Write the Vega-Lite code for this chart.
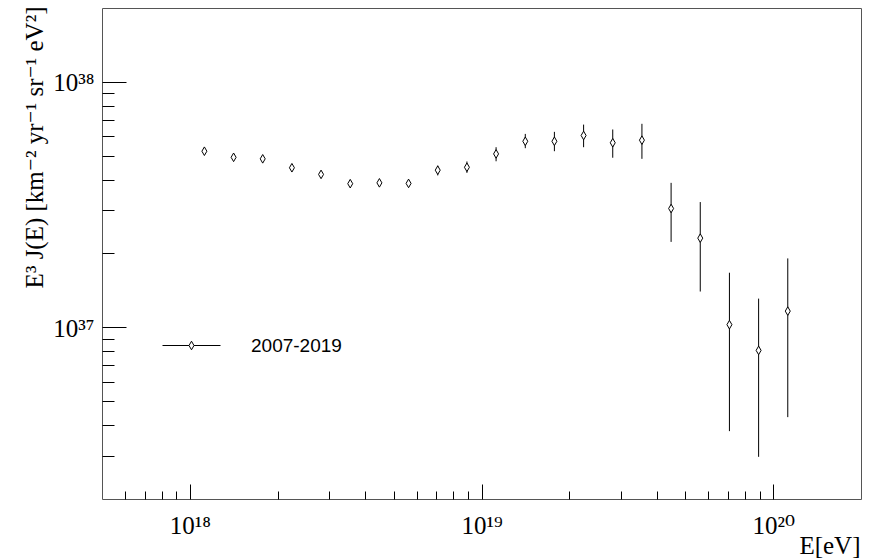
{
  "$schema": "https://vega.github.io/schema/vega-lite/v6.json",
  "autosize": "none",
  "width": 759,
  "height": 491,
  "padding": {"left": 102, "top": 8, "right": 13, "bottom": 59},
  "background": "white",
  "config": {"view": {"stroke": "#555", "strokeWidth": 1}, "axis": {"grid": false}},
  "data": {"values": [
    {"E": 1.122e18, "J": 5.22e37, "lo": 5.10e37, "hi": 5.34e37, "series": "2007-2019"},
    {"E": 1.413e18, "J": 4.93e37, "lo": 4.81e37, "hi": 5.05e37, "series": "2007-2019"},
    {"E": 1.778e18, "J": 4.86e37, "lo": 4.74e37, "hi": 4.98e37, "series": "2007-2019"},
    {"E": 2.239e18, "J": 4.47e37, "lo": 4.35e37, "hi": 4.59e37, "series": "2007-2019"},
    {"E": 2.818e18, "J": 4.20e37, "lo": 4.07e37, "hi": 4.33e37, "series": "2007-2019"},
    {"E": 3.548e18, "J": 3.85e37, "lo": 3.74e37, "hi": 3.96e37, "series": "2007-2019"},
    {"E": 4.467e18, "J": 3.88e37, "lo": 3.77e37, "hi": 3.99e37, "series": "2007-2019"},
    {"E": 5.623e18, "J": 3.86e37, "lo": 3.74e37, "hi": 3.98e37, "series": "2007-2019"},
    {"E": 7.079e18, "J": 4.37e37, "lo": 4.16e37, "hi": 4.56e37, "series": "2007-2019"},
    {"E": 8.913e18, "J": 4.49e37, "lo": 4.26e37, "hi": 4.74e37, "series": "2007-2019"},
    {"E": 1.122e19, "J": 5.09e37, "lo": 4.75e37, "hi": 5.42e37, "series": "2007-2019"},
    {"E": 1.413e19, "J": 5.73e37, "lo": 5.37e37, "hi": 6.14e37, "series": "2007-2019"},
    {"E": 1.778e19, "J": 5.73e37, "lo": 5.22e37, "hi": 6.26e37, "series": "2007-2019"},
    {"E": 2.239e19, "J": 6.05e37, "lo": 5.42e37, "hi": 6.70e37, "series": "2007-2019"},
    {"E": 2.818e19, "J": 5.65e37, "lo": 4.91e37, "hi": 6.40e37, "series": "2007-2019"},
    {"E": 3.548e19, "J": 5.79e37, "lo": 4.86e37, "hi": 6.75e37, "series": "2007-2019"},
    {"E": 4.467e19, "J": 3.05e37, "lo": 2.23e37, "hi": 3.88e37, "series": "2007-2019"},
    {"E": 5.623e19, "J": 2.31e37, "lo": 1.40e37, "hi": 3.24e37, "series": "2007-2019"},
    {"E": 7.079e19, "J": 1.026e37, "lo": 3.78e36, "hi": 1.67e37, "series": "2007-2019"},
    {"E": 8.913e19, "J": 8.06e36, "lo": 2.97e36, "hi": 1.31e37, "series": "2007-2019"},
    {"E": 1.122e20, "J": 1.165e37, "lo": 4.31e36, "hi": 1.91e37, "series": "2007-2019"}
  ]},
  "encoding": {
    "x": {
      "field": "E", "type": "quantitative",
      "scale": {"type": "log", "domain": [5e17, 2e20], "nice": false},
      "axis": {
        "title": "E[eV]", "titleFont": "Liberation Serif", "titleFontSize": 25, "titleFontWeight": "normal", "titleColor": "black",
        "titleAnchor": "end", "titleAlign": "right", "titleBaseline": "alphabetic", "titleX": 758, "titleY": 54,
        "values": [6e17, 7e17, 8e17, 9e17, 1e18, 2e18, 3e18, 4e18, 5e18, 6e18, 7e18, 8e18, 9e18, 1e19, 2e19, 3e19, 4e19, 5e19, 6e19, 7e19, 8e19, 9e19, 1e20],
        "tickSize": -15, "tickColor": "black", "tickWidth": 1,
        "tickDash": {"condition": {"test": "datum.value==1e18||datum.value==1e19||datum.value==1e20", "value": [20, 0]}, "value": [8, 60]},
        "labelExpr": "datum.value==1e18?'10¹⁸':datum.value==1e19?'10¹⁹':datum.value==1e20?'10²⁰':''",
        "labelFont": "Liberation Serif, DejaVu Serif", "labelFontSize": 25, "labelColor": "black", "labelBaseline": "alphabetic",
        "labelPadding": 49, "labelOverlap": false, "labelFlush": false, "domain": false, "grid": false
      }
    }
  },
  "layer": [
    {
      "mark": {"type": "rule", "color": "black", "strokeWidth": 1},
      "encoding": {
        "y": {
          "field": "lo", "type": "quantitative",
          "scale": {"type": "log", "domain": [2e36, 2e38], "nice": false},
          "axis": {
            "title": "E³ J(E) [km⁻² yr⁻¹ sr⁻¹ eV²]", "titleFont": "Liberation Serif, DejaVu Serif", "titleFontSize": 25, "titleFontWeight": "normal", "titleColor": "black",
            "titleAngle": -90, "titleX": -60, "titleY": -2, "titleAlign": "right", "titleBaseline": "alphabetic", "titleAnchor": "end",
            "values": [3e36, 4e36, 5e36, 6e36, 7e36, 8e36, 9e36, 1e37, 2e37, 3e37, 4e37, 5e37, 6e37, 7e37, 8e37, 9e37, 1e38],
            "tickSize": -24, "tickColor": "black", "tickWidth": 1,
            "tickDash": {"condition": {"test": "datum.value==1e37||datum.value==1e38", "value": [30, 0]}, "value": [12, 60]},
            "labelExpr": "datum.value==1e37?'10³⁷':datum.value==1e38?'10³⁸':''",
            "labelFont": "Liberation Serif, DejaVu Serif", "labelFontSize": 25, "labelColor": "black", "labelBaseline": "middle", "labelAlign": "right",
            "labelPadding": 32, "labelOffset": 1, "labelOverlap": false, "labelFlush": false, "domain": false, "grid": false
          }
        },
        "y2": {"field": "hi"}
      }
    },
    {
      "mark": {"type": "point", "shape": "M0,-1L0.58,0L0,1L-0.58,0Z", "size": 74, "filled": true, "fill": "white", "fillOpacity": 1, "strokeWidth": 1, "opacity": 1},
      "encoding": {
        "y": {
          "field": "J", "type": "quantitative",
          "scale": {"type": "log", "domain": [2e36, 2e38], "nice": false},
          "axis": {
            "title": "E³ J(E) [km⁻² yr⁻¹ sr⁻¹ eV²]", "titleFont": "Liberation Serif, DejaVu Serif", "titleFontSize": 25, "titleFontWeight": "normal", "titleColor": "black",
            "titleAngle": -90, "titleX": -60, "titleY": -2, "titleAlign": "right", "titleBaseline": "alphabetic", "titleAnchor": "end",
            "values": [3e36, 4e36, 5e36, 6e36, 7e36, 8e36, 9e36, 1e37, 2e37, 3e37, 4e37, 5e37, 6e37, 7e37, 8e37, 9e37, 1e38],
            "tickSize": -24, "tickColor": "black", "tickWidth": 1,
            "tickDash": {"condition": {"test": "datum.value==1e37||datum.value==1e38", "value": [30, 0]}, "value": [12, 60]},
            "labelExpr": "datum.value==1e37?'10³⁷':datum.value==1e38?'10³⁸':''",
            "labelFont": "Liberation Serif, DejaVu Serif", "labelFontSize": 25, "labelColor": "black", "labelBaseline": "middle", "labelAlign": "right",
            "labelPadding": 32, "labelOffset": 1, "labelOverlap": false, "labelFlush": false, "domain": false, "grid": false
          }
        },
        "stroke": {
          "field": "series", "type": "nominal",
          "scale": {"range": ["black"]},
          "legend": {
            "title": null, "orient": "none", "legendX": 60, "legendY": 308, "padding": 0,
            "symbolType": "M-1,0L-0.086,0M0.086,0L1,0M0,-0.148L0.086,0L0,0.148L-0.086,0Z",
            "symbolSize": 3364, "symbolStrokeWidth": 1, "symbolFillColor": "white", "symbolStrokeColor": "black", "symbolOpacity": 1,
            "labelFont": "Liberation Sans", "labelFontSize": 19, "labelColor": "black", "labelOffset": 30, "labelBaseline": "middle"
          }
        }
      }
    }
  ]
}
